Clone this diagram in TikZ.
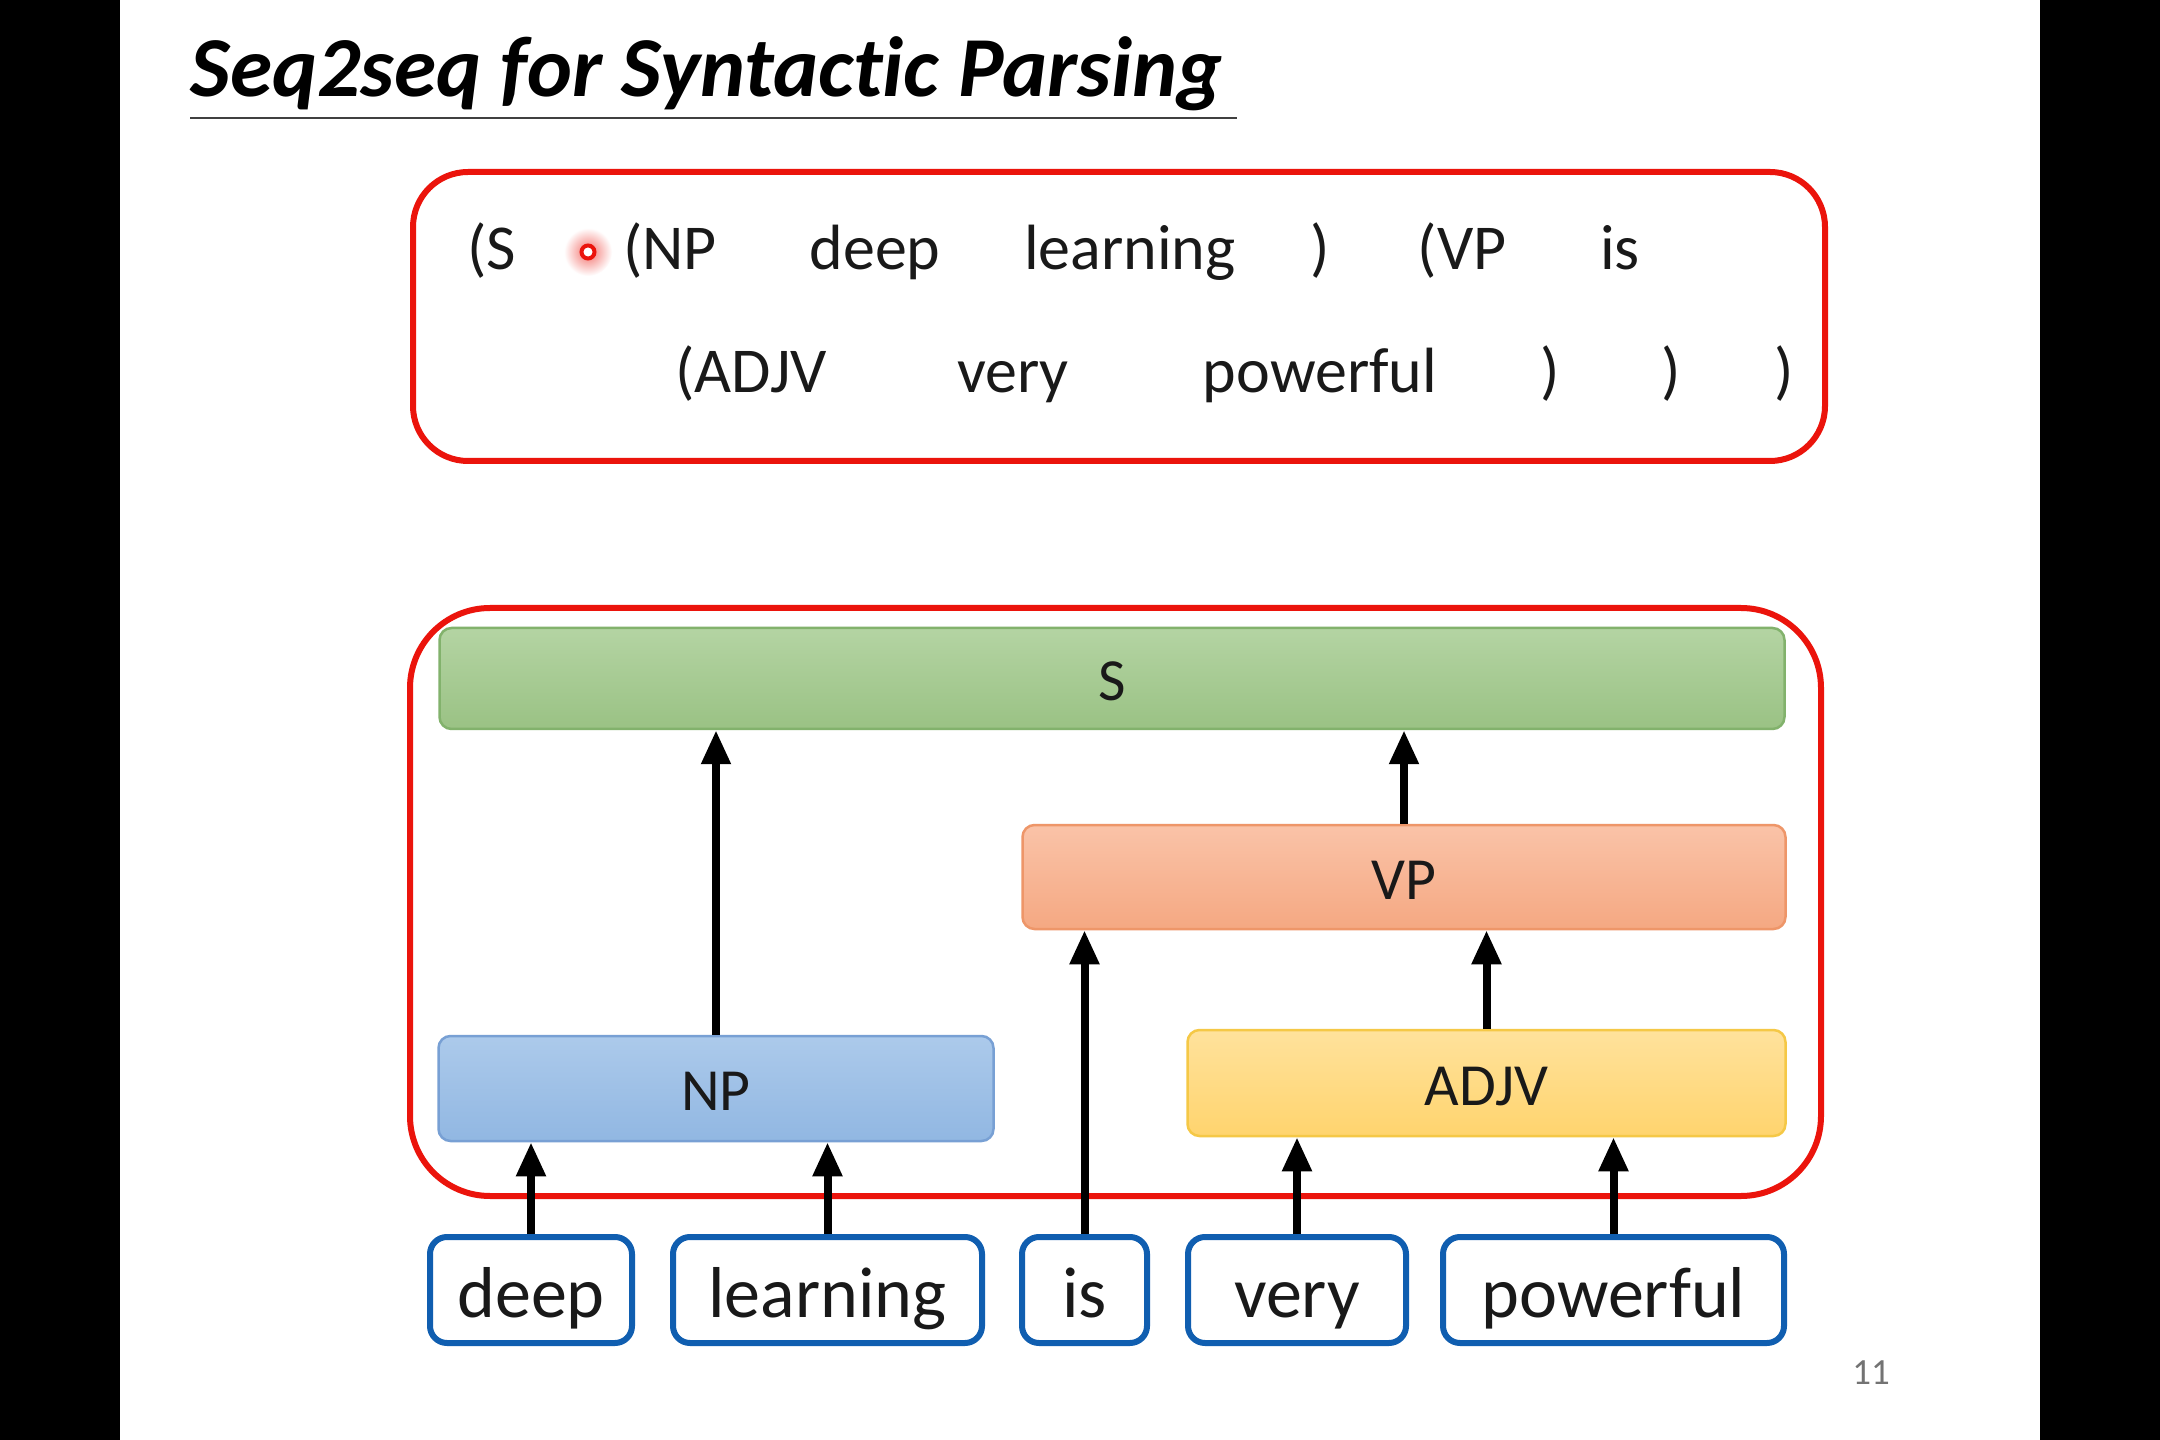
\documentclass[tikz,border=0pt]{standalone}
\usepackage{fontspec}
\setmainfont{Carlito}[Ligatures={NoCommon}]
\usetikzlibrary{arrows.meta}
\definecolor{myred}{RGB}{235,20,12}
\definecolor{txt}{RGB}{25,25,25}
\definecolor{wordblue}{RGB}{16,94,176}
\definecolor{gtop}{RGB}{180,212,163}
\definecolor{gbot}{RGB}{154,194,132}
\definecolor{gline}{RGB}{130,178,108}
\definecolor{otop}{RGB}{250,195,168}
\definecolor{obot}{RGB}{245,168,130}
\definecolor{oline}{RGB}{238,150,105}
\definecolor{btop}{RGB}{172,202,235}
\definecolor{bbot}{RGB}{145,183,226}
\definecolor{bline}{RGB}{120,160,212}
\definecolor{ytop}{RGB}{255,226,156}
\definecolor{ybot}{RGB}{255,212,110}
\definecolor{yline}{RGB}{245,200,70}
\tikzset{
  seqtext/.style={anchor=base, text=txt, font=\fontsize{18.2}{22}\selectfont, inner sep=0pt},
  phrase/.style={rounded corners=1.2mm, line width=0.25mm, text=txt,
    font=\fontsize{17}{20}\selectfont, inner sep=0pt, text height=4.4mm, text depth=0mm},
  wordbox/.style={draw=wordblue, fill=white, line width=0.6mm, rounded corners=1.7mm,
    text=txt, font=\fontsize{20.5}{24}\selectfont, inner sep=0pt, minimum height=10.6mm,
    text height=5.4mm, text depth=0mm},
  arr/.style={-{Triangle[length=3.4mm,width=2.8mm]}, line width=0.8mm, black}
}
\begin{document}
\begin{tikzpicture}[x=0.1mm,y=-0.1mm]
\useasboundingbox (0,0) rectangle (2160,1440);
\fill[white] (0,0) rectangle (2160,1440);
\fill[black] (0,0) rectangle (120,1440);
\fill[black] (2040,0) rectangle (2160,1440);

% title
\node[anchor=base west, inner sep=0pt, text=black,
  font=\fontsize{24.3}{30}\selectfont\bfseries\itshape] (title) at (190,97) {Seq2seq for Syntactic Parsing};
\coordinate (ulA) at (190,118);
\coordinate (ulB) at (1237,118);
\draw[line width=0.25mm, black!75] (ulA) -- (ulB);

% top sequence box
\draw[myred, line width=0.6mm, rounded corners=5.5mm] (413,172) rectangle (1825,461);
\shade[inner color=myred!60, outer color=white] (588,252) circle (24);
\draw[myred, line width=0.4mm, fill=white] (588,252) circle (6.5);
\node[seqtext] (t1) at (492,270) {(S};
\node[seqtext] (t2) at (670,270) {(NP};
\node[seqtext] (t3) at (875,270) {deep};
\node[seqtext] (t4) at (1130,270) {learning};
\node[seqtext] (t5) at (1320,270) {)};
\node[seqtext] (t6) at (1462,270) {(VP};
\node[seqtext] (t7) at (1620,270) {is};
\node[seqtext] (t8) at (751,393) {(ADJV};
\node[seqtext] (t9) at (1013,393) {very};
\node[seqtext] (t10) at (1320,393) {powerful};
\node[seqtext] (t11) at (1550,393) {)};
\node[seqtext] (t12) at (1671,393) {)};
\node[seqtext] (t13) at (1784,393) {)};

% bottom tree box
\draw[myred, line width=0.6mm, rounded corners=8mm] (410,608) rectangle (1821,1196);

\node[phrase, draw=gline, top color=gtop, bottom color=gbot,
  minimum width=134.5mm, minimum height=10.1mm] (S) at (1112,678.5) {S};
\node[phrase, draw=oline, top color=otop, bottom color=obot,
  minimum width=76.3mm, minimum height=10.4mm] (VP) at (1404,877) {VP};
\node[phrase, draw=bline, top color=btop, bottom color=bbot,
  minimum width=55.5mm, minimum height=10.5mm] (NP) at (716,1088.5) {NP};
\node[phrase, draw=yline, top color=ytop, bottom color=ybot,
  minimum width=59.8mm, minimum height=10.6mm] (ADJV) at (1486.5,1083) {ADJV};

% words
\node[wordbox, minimum width=20.2mm] (deep) at (531,1290) {deep};
\node[wordbox, minimum width=30.9mm] (learning) at (827.5,1290) {learning};
\node[wordbox, minimum width=12.5mm] (is) at (1084.5,1290) {is};
\node[wordbox, minimum width=21.8mm] (very) at (1297,1290) {very};
\node[wordbox, minimum width=34.1mm] (powerful) at (1613.5,1290) {powerful};

% arrows
\draw[arr] (deep.north) -- (deep.north |- NP.south);
\draw[arr] (learning.north) -- (learning.north |- NP.south);
\draw[arr] (is.north) -- (is.north |- VP.south);
\draw[arr] (very.north) -- (very.north |- ADJV.south);
\draw[arr] (powerful.north) -- (powerful.north |- ADJV.south);
\draw[arr] (NP.north) -- (NP.north |- S.south);
\draw[arr] (ADJV.north) -- (ADJV.north |- VP.south);
\draw[arr] (VP.north) -- (VP.north |- S.south);

% page number
\node[anchor=base, inner sep=0pt, text=black!55, font=\fontsize{10.5}{12}\selectfont] (pg) at (1871,1384) {11};
\end{tikzpicture}
\end{document}
